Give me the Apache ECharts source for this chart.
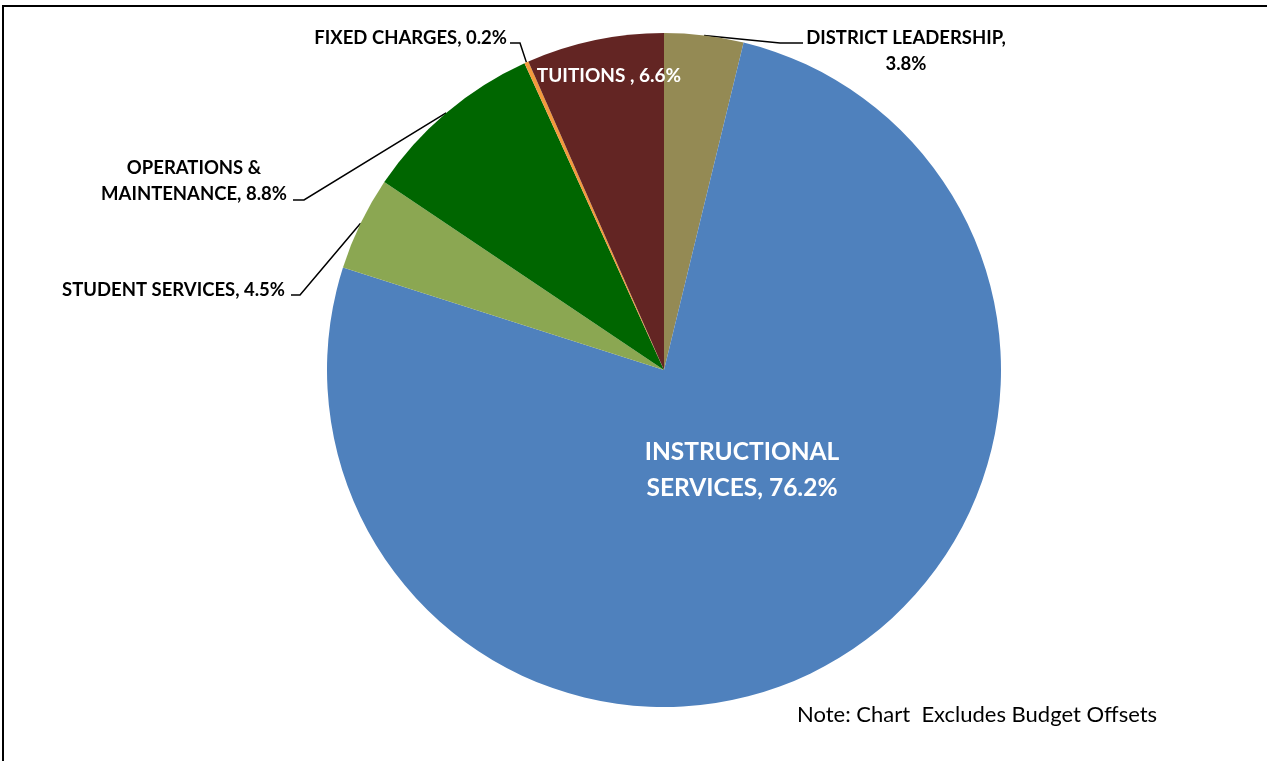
<!DOCTYPE html>
<html>
<head>
<meta charset="utf-8">
<title>Budget by Function</title>
<script src="https://cdn.jsdelivr.net/npm/echarts@6/dist/echarts.min.js"></script>
<style>
  html, body { margin: 0; padding: 0; background: #fff; }
  #chart { width: 1267px; height: 761px; }
</style>
</head>
<body>
<div id="chart"></div>
<script>
// Budget share by function (percent), clockwise from 12 o'clock
const categories = [
  'DISTRICT LEADERSHIP',
  'INSTRUCTIONAL SERVICES',
  'STUDENT SERVICES',
  'OPERATIONS & MAINTENANCE',
  'FIXED CHARGES',
  'TUITIONS '
];
const shares = [3.8, 76.2, 4.5, 8.8, 0.2, 6.6];
const sliceColors = ['#948A54', '#4F81BD', '#8BA752', '#006600', '#F39A3C', '#632523'];
const noteText = 'Note: Chart  Excludes Budget Offsets';

const FONT = 'Lato, "Open Sans", sans-serif';

// Label text for each slice
const labelText = [
  'DISTRICT LEADERSHIP,\n3.8%',
  'INSTRUCTIONAL\nSERVICES, 76.2%',
  'STUDENT SERVICES, 4.5%',
  'OPERATIONS &\nMAINTENANCE, 8.8%',
  'FIXED CHARGES, 0.2%',
  'TUITIONS , 6.6%'
];

// Label placement: anchor point, alignment and leader-line elbow
const labelPlace = [
  { x: 906, y: 51, align: 'center', elbow: [[780, 43], [803, 43]] },
  { x: 742, y: 470, align: 'center' },
  { x: 285, y: 290, align: 'right', elbow: [[300, 295], [291, 295]] },
  { x: 194, y: 181, align: 'center', elbow: [[304, 200], [293, 200]] },
  { x: 507, y: 38, align: 'right', elbow: [[520, 43], [510, 43]] },
  { x: 609, y: 76, align: 'center' }
];

const outside = [true, false, true, true, true, false];

const data = categories.map((name, i) => ({
  name: name,
  value: shares[i],
  itemStyle: { color: sliceColors[i] },
  label: outside[i]
    ? { position: 'outside', color: '#000', fontSize: 18.5, fontWeight: 'bold', lineHeight: 26, align: labelPlace[i].align }
    : { position: 'inside', color: '#fff', fontSize: i === 1 ? 24.5 : 19, fontWeight: 'bold', lineHeight: i === 1 ? 36 : 22, align: 'center' },
  labelLine: { show: outside[i] }
}));

const chart = echarts.init(document.getElementById('chart'), null, { renderer: 'canvas' });

chart.setOption({
  animation: false,
  backgroundColor: '#fff',
  textStyle: { fontFamily: FONT },
  graphic: [
    {
      type: 'rect',
      shape: { x: 3, y: 6, width: 1275, height: 770 },
      style: { fill: 'none', stroke: '#000', lineWidth: 2 },
      silent: true
    },
    {
      type: 'text',
      x: 797,
      y: 715,
      style: { text: noteText, font: '22px ' + FONT, fill: '#000', textVerticalAlign: 'middle', verticalAlign: 'middle' }
    }
  ],
  series: [{
    type: 'pie',
    center: [664, 370],
    radius: 337,
    startAngle: 90,
    clockwise: true,
    avoidLabelOverlap: false,
    data: data,
    itemStyle: { borderWidth: 0 },
    label: {
      show: true,
      formatter: p => labelText[p.dataIndex],
      fontFamily: FONT
    },
    labelLine: {
      show: true,
      length: 20,
      length2: 10,
      lineStyle: { color: '#000', width: 1.5 }
    },
    labelLayout: function (params) {
      const p = labelPlace[params.dataIndex];
      const res = {
        x: p.x,
        y: p.y,
        align: p.align,
        verticalAlign: 'middle',
        hideOverlap: false
      };
      if (p.elbow && params.labelLinePoints) {
        const start = params.labelLinePoints[0];
        res.labelLinePoints = [start, p.elbow[0], p.elbow[1]];
      }
      return res;
    }
  }]
});
</script>
</body>
</html>
